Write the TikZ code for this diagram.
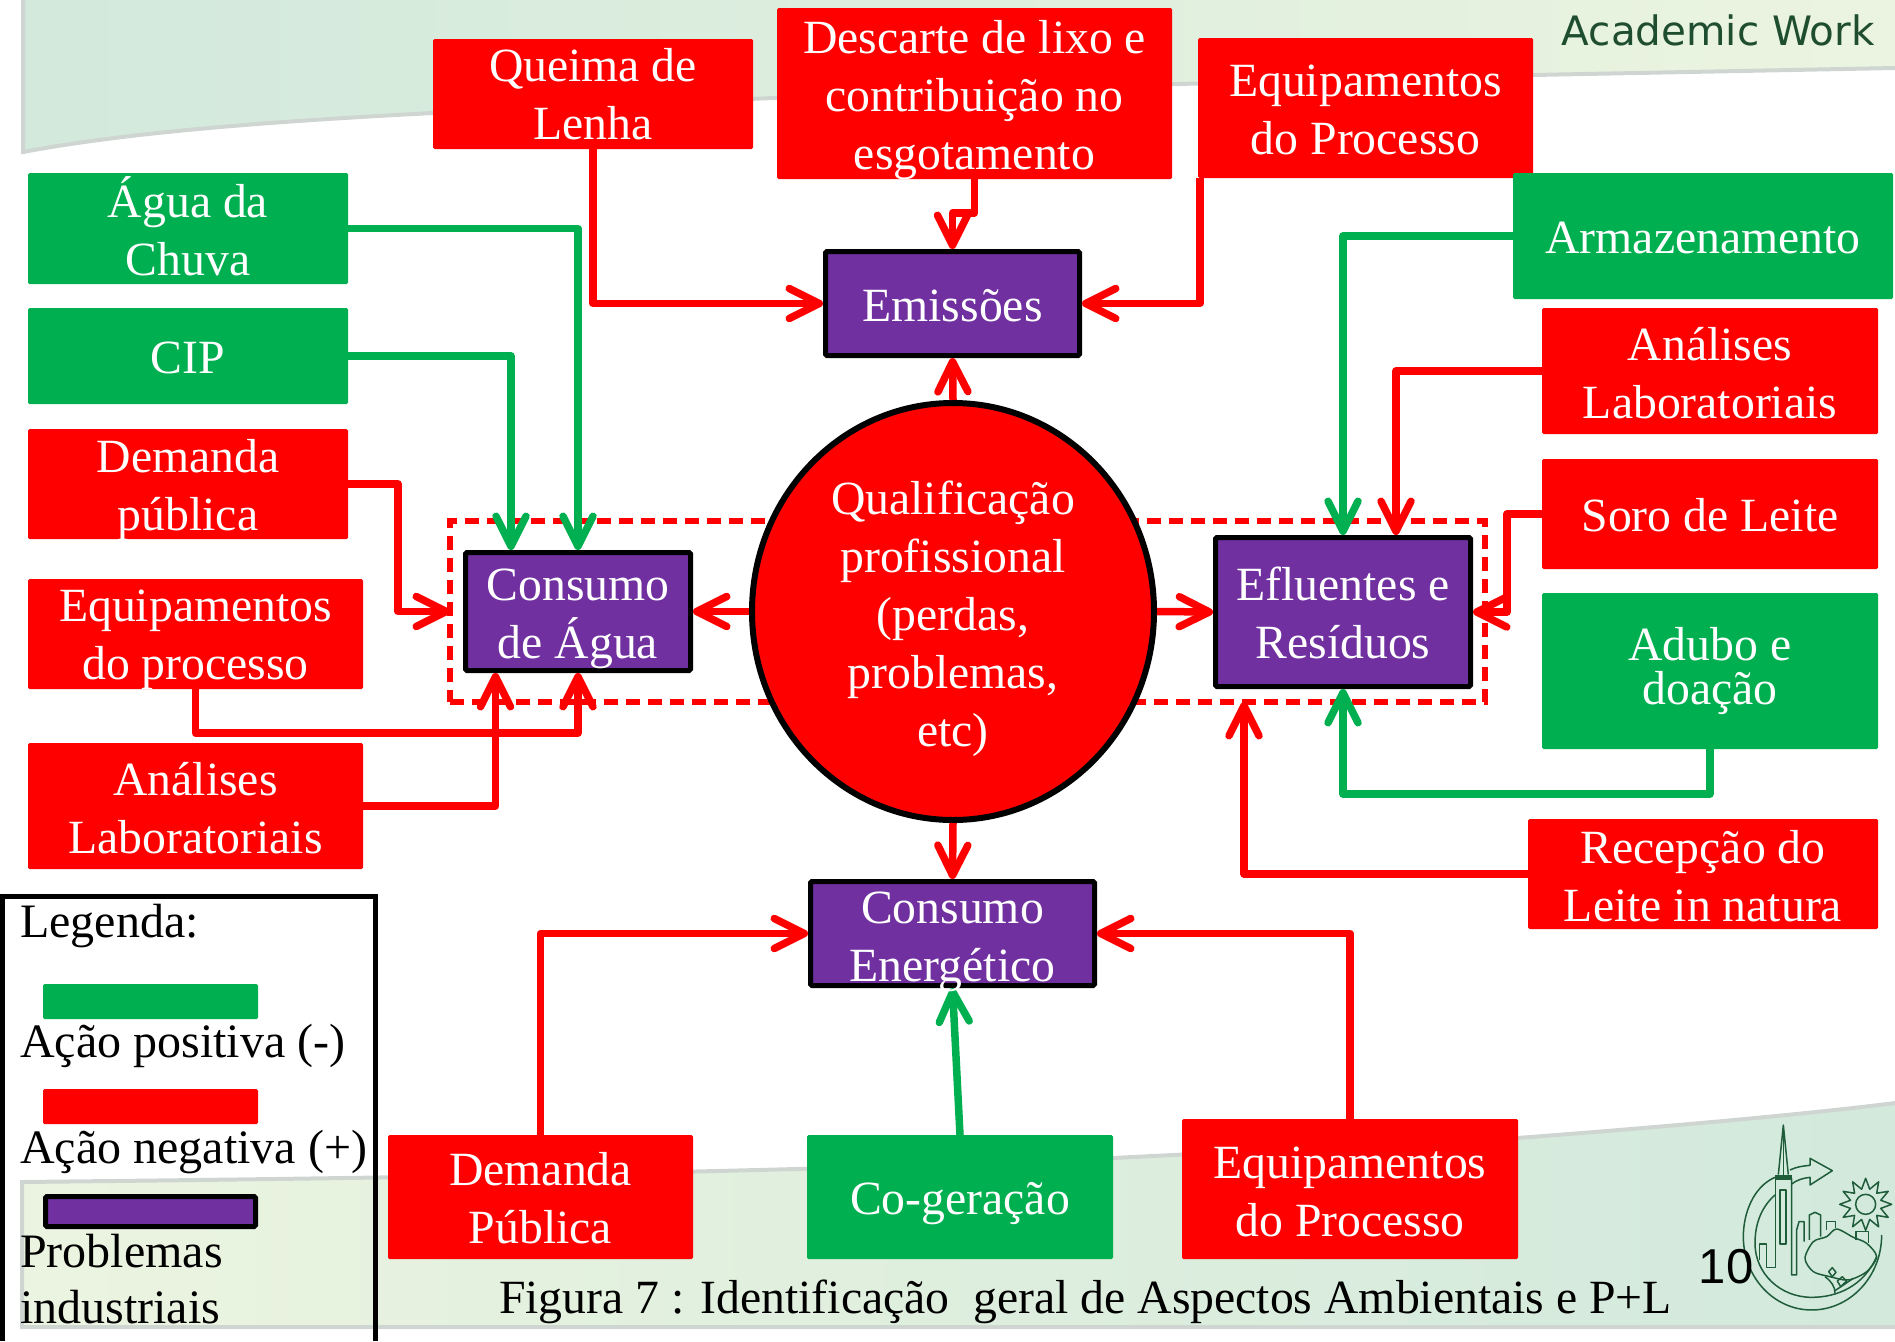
\documentclass[tikz,border=0pt]{standalone}
\usepackage{fontspec}
\setmainfont{Liberation Serif}
\newfontfamily\acadfont{DejaVu Sans}
\newfontfamily\numfont{Liberation Sans}
\usetikzlibrary{arrows.meta,shapes.geometric,calc}
\definecolor{rr}{HTML}{FF0000}
\definecolor{gg}{HTML}{00B050}
\definecolor{pp}{HTML}{7030A0}
\definecolor{bandA}{HTML}{D2E9DC}
\definecolor{bandB}{HTML}{EBF4E0}
\definecolor{bandedge}{HTML}{CFD6D2}
\definecolor{logoc}{HTML}{1F5C3A}
\definecolor{acad}{HTML}{1F4D30}
\tikzset{
  rbox/.style={fill=rr,rounded corners=1.5pt,inner sep=0pt,outer sep=0pt},
  gbox/.style={fill=gg,rounded corners=1.5pt,inner sep=0pt,outer sep=0pt},
  pbox/.style={fill=pp,draw=black,line width=5pt,rounded corners=1.5pt,inner sep=0pt},
  boxtext/.style={text=white,align=center,inner sep=0pt,font=\fontsize{47.7}{58}\selectfont},
  blacktext/.style={text=black,inner sep=0pt,anchor=base west,font=\fontsize{48}{58}\selectfont},
  redc/.style={draw=rr,line width=7.5pt,line join=round,-{Straight Barb[length=30pt,width=30pt,line width=7.5pt,round]}},
  greenc/.style={draw=gg,line width=7.5pt,line join=round,-{Straight Barb[length=30pt,width=30pt,line width=7.5pt,round]}},
  logoline/.style={draw=logoc,line width=1.5pt,line join=round}
}
\newcommand\bx[8][0]{\node[#3,minimum width=#6pt,minimum height=#7pt] (#2) at (#4,#5) {};
  \node[boxtext] (#2t) at ($(#2)+(0,#1)$) {#8};}
\begin{document}
\begin{tikzpicture}[x=1pt,y=-1pt]
\useasboundingbox (0,0) rectangle (1895,1341);
% background bands
\shade[left color=bandA,right color=bandB] (23,0) -- (23,152) .. controls (140,130) and (300,120) .. (433,113)
  .. controls (800,95) and (1200,82) .. (1533,75) -- (1895,68) -- (1895,0) -- cycle;
\draw[bandedge,line width=4pt] (23,0) -- (23,152) .. controls (140,130) and (300,120) .. (433,113)
  .. controls (800,95) and (1200,82) .. (1533,75) -- (1895,68);
\shade[left color=bandB,right color=bandA] (22,1182) .. controls (400,1178) and (800,1172) .. (1113,1158)
  .. controls (1250,1151) and (1400,1145) .. (1517,1138) .. controls (1650,1128) and (1800,1115) .. (1895,1103)
  -- (1895,1327) -- (22,1327) -- cycle;
\draw[bandedge,line width=4pt] (1895,1327) -- (22,1327) -- (22,1182) .. controls (400,1178) and (800,1172) .. (1113,1158)
  .. controls (1250,1151) and (1400,1145) .. (1517,1138) .. controls (1650,1128) and (1800,1115) .. (1895,1103);
\node[anchor=base east,inner sep=0pt,text=acad,font=\acadfont\fontsize{40.5}{48}\selectfont] (acadw) at (1875,45) {Academic Work};
% logo
\begin{scope}[shift={(1600,1080)},x=0.3333pt,y=-0.3333pt]
  \draw[logoline] (525,292) .. controls (460,320) and (430,400) .. (430,470) .. controls (430,590) and (520,690) .. (635,690) .. controls (750,690) and (845,590) .. (845,465);
  \draw[logoline] (525,345) .. controls (485,380) and (465,430) .. (465,490) .. controls (465,580) and (540,652) .. (635,652) .. controls (710,652) and (790,620) .. (830,530);
  \draw[logoline] (527,295) -- (527,562) -- (500,562) -- (500,492) -- (478,492) -- (478,540);
  \draw[logoline] (575,295) -- (575,585) -- (590,585) -- (590,450) -- (597,425) -- (612,425) -- (612,485);
  \fill[logoc] (525,284) rectangle (575,300);
  \draw[logoline] (535,284) -- (550,135) -- (565,284);
  \draw[logoline] (550,135) -- (550,284);
  \draw[logoline] (540,330) rectangle (558,492);
  \draw[logoline] (570,270) .. controls (590,260) and (610,258) .. (630,256) -- (630,235) -- (697,272) -- (630,315) -- (630,292) .. controls (610,294) and (590,300) .. (575,312);
  \draw[logoline] (628,480) -- (628,405) -- (645,397) -- (662,405) -- (662,470);
  \draw[logoline] (680,450) -- (680,425) -- (707,425) -- (707,445);
  \draw[logoline] (768,480) -- (768,455) -- (805,455) -- (805,490);
  \draw[logoline] plot[smooth cycle] coordinates {(615,535) (640,485) (680,470) (710,447) (760,472) (800,490) (830,530) (800,575) (745,600) (690,590) (640,575)};
  \draw[logoline] (675,590) .. controls (695,605) and (705,620) .. (705,640);
  \draw[logoline] (705,632) -- (760,595);
  \draw[logoline] (686,575) -- (697,563) -- (708,577) -- (697,590) -- cycle;
  \draw[logoline] (712,603) -- (727,590) -- (740,603) -- (722,620) -- cycle;
  \draw[logoline] (797,373) circle[radius=30];
  \draw[logoline] plot[samples at={0,1,...,23},variable=\k] ({797+(mod(\k,2)==0?78:47)*cos(\k*15)},{373+(mod(\k,2)==0?78:47)*sin(\k*15)}) -- cycle;
\end{scope}
% dashed group
\node[draw=rr,line width=5.5pt,dash pattern=on 14pt off 8pt,minimum width=1035pt,minimum height=181pt,inner sep=0pt,outer sep=0pt] (grp) at (967.5,611.5) {};
% centre
\node[ellipse,fill=rr,draw=black,line width=6pt,minimum width=402pt,minimum height=417pt,inner sep=0pt] (circ) at (953,611.5) {};
\node[boxtext] (circt) at (953,619) {Qualificação\\profissional\\(perdas,\\problemas,\\etc)};
% boxes
\bx{queima}{rbox}{593}{94}{320}{110}{Queima de\\Lenha}
\bx[7]{desc}{rbox}{974.5}{93.5}{395}{171}{Descarte de lixo e\\contribuição no\\esgotamento}
\bx[2]{eqt}{rbox}{1365.5}{108}{335}{140}{Equipamentos\\do Processo}
\bx[-2]{agua}{gbox}{188}{228.5}{320}{111}{Água da\\Chuva}
\bx[2]{cip}{gbox}{188}{356}{320}{96}{CIP}
\bx[6]{dem}{rbox}{188}{484}{320}{110}{Demanda\\pública}
\bx[6]{eqp}{rbox}{195.5}{634}{335}{110}{Equipamentos\\do processo}
\bx[2]{anl}{rbox}{195.5}{806}{335}{126}{Análises\\Laboratoriais}
\bx[2]{arm}{gbox}{1703}{236}{380}{126}{Armazenamento}
\bx[2]{anr}{rbox}{1710}{371}{336}{126}{Análises\\Laboratoriais}
\bx[1]{soro}{rbox}{1710}{514}{336}{110}{Soro de Leite}
\node[gbox,minimum width=336pt,minimum height=156pt] (adubo) at (1710,671) {};
\node[boxtext,font=\fontsize{47.7}{44}\selectfont] (adubot) at (adubo) {Adubo e\\doação};
\bx[2]{rec}{rbox}{1703}{874}{350}{110}{Recepção do\\Leite in natura}
\bx[1]{dpu}{rbox}{540.5}{1197}{305}{124}{Demanda\\Pública}
\bx[7]{cog}{gbox}{960}{1197}{306}{124}{Co-geração}
\bx[3]{eqb}{rbox}{1350}{1189}{336}{140}{Equipamentos\\do Processo}
\bx[2]{emis}{pbox}{952.5}{303.5}{254}{104}{Emissões}
\bx[7]{cons}{pbox}{578}{611.5}{225}{118}{Consumo\\de Água}
\bx[1]{efl}{pbox}{1343}{612}{255}{149}{Efluentes e\\Resíduos}
\node[pbox,minimum width=284pt,minimum height=104pt] (cen) at (952.5,933.5) {};
% connectors
\draw[redc] (queima.south) |- (emis.west);
\draw[redc] (desc.south) -- ++(0,34) -| (emis.north);
\draw[redc] ($(eqt.south west)+(2,0)$) |- (emis.east);
\draw[redc] (circ.north) -- (emis.south);
\draw[greenc] (agua.east) -| (cons.north);
\draw[greenc] (cip.east) -| ($(cons.north)+(-67,0)$);
\draw[redc] (dem.east) -- ++(50,0) |- (grp.west);
\draw[redc] (eqp.south) -- ++(0,44) -| (cons.south);
\draw[redc] (anl.east) -| ($(cons.south)+(-82.5,0)$);
\draw[redc] (circ.west) -- (cons.east);
\draw[redc] (circ.east) -- (efl.west);
\draw[redc] (circ.south) -- (cen.north);
\draw[greenc] (arm.west) -| (efl.north);
\draw[redc] (anr.west) -| ($(efl.north)+(53,0)$);
\draw[redc] (soro.west) -- ++(-35,0) |- (efl.east);
\draw[greenc] (adubo.south) -- ++(0,45) -| (efl.south);
\coordinate (recend) at (1244,702);
\draw[redc] (rec.west) -| (recend);
\draw[redc] (dpu.north) |- (cen.west);
\draw[redc] (eqb.north) |- (cen.east);
\draw[greenc] (cog.north) -- (cen.south);
\node[boxtext] (cent) at ($(cen)+(0,8)$) {Consumo\\Energético};
% legend
\draw[black,line width=5pt] (2,1341) -- (2,896) -- (375,896) -- (375,1341);
\node[blacktext] (lg0) at (20,937) {Legenda:};
\node[gbox,minimum width=215pt,minimum height=35pt] (lg1) at (150.5,1001.5) {};
\node[blacktext] (lg1t) at (20,1057) {Ação positiva (-)};
\node[rbox,minimum width=215pt,minimum height=35pt] (lg2) at (150.5,1106.5) {};
\node[blacktext] (lg2t) at (20,1163) {Ação negativa (+)};
\node[pbox,minimum width=210pt,minimum height=30pt] (lg3) at (150.5,1211.5) {};
\node[blacktext] (lg3t) at (20,1267) {Problemas};
\node[blacktext] (lg3u) at (20,1323) {industriais};
% caption
\node[blacktext,font=\fontsize{47.7}{58}\selectfont] (capt) at (499,1313) {Figura 7 : Identificação\ \ geral de Aspectos Ambientais e P+L};
\node[anchor=center,inner sep=0pt,text=black,font=\numfont\fontsize{49}{56}\selectfont] (pnum) at (1726,1267) {10};
\end{tikzpicture}
\end{document}
